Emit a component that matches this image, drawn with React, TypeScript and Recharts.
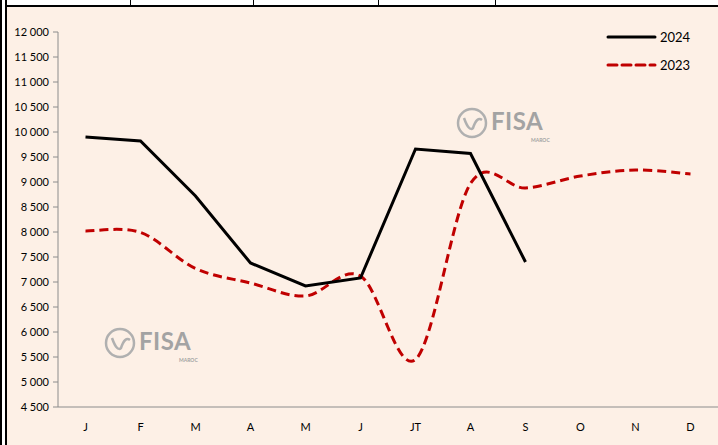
import { LineChart, Line, XAxis, YAxis } from 'recharts';

const months = ['J', 'F', 'M', 'A', 'M', 'J', 'JT', 'A', 'S', 'O', 'N', 'D'];
const values2024 = [9900, 9820, 8720, 7380, 6920, 7080, 9660, 9570, 7400, null, null, null];
const values2023 = [8020, 7990, 7270, 6980, 6720, 7120, 5450, 8970, 8880, 9120, 9240, 9160];
const yTicks = [4500, 5000, 5500, 6000, 6500, 7000, 7500, 8000, 8500, 9000, 9500, 10000, 10500, 11000, 11500, 12000];

const data = months.map((m, i) => ({ key: `${m}${i}`, label: m, y2024: values2024[i], y2023: values2023[i] }));

const fmt = (v: number) => String(v).replace(/\B(?=(\d{3})+(?!\d))/g, ' ');

// Excel-like smoothed line (Catmull-Rom through the points)
const smoothCurve = (context: any) => {
  let pts: number[][] = [];
  return {
    areaStart() {},
    areaEnd() {},
    lineStart() {
      pts = [];
    },
    lineEnd() {
      if (!pts.length) return;
      context.moveTo(pts[0][0], pts[0][1]);
      for (let i = 0; i < pts.length - 1; i++) {
        const p0 = pts[i - 1] || pts[i];
        const p1 = pts[i];
        const p2 = pts[i + 1];
        const p3 = pts[i + 2] || p2;
        context.bezierCurveTo(
          p1[0] + (p2[0] - p0[0]) / 6, p1[1] + (p2[1] - p0[1]) / 6,
          p2[0] - (p3[0] - p1[0]) / 6, p2[1] - (p3[1] - p1[1]) / 6,
          p2[0], p2[1]
        );
      }
    },
    point(x: number, y: number) {
      pts.push([+x, +y]);
    },
  };
};

const Watermark = ({ left, top }: { left: number; top: number }) => (
  <div style={{ position: 'absolute', left, top, width: 100, height: 38, color: '#a3a3a3', fontFamily: 'Lato, sans-serif' }}>
    <svg width="36" height="34" style={{ position: 'absolute', left: 0, top: 0 }}>
      <circle cx="17" cy="17" r="14" fill="none" stroke="#b0b0b0" strokeWidth="2.5" />
      <path d="M9 12 Q14 26 18 22 Q22 10 27 14" fill="none" stroke="#b0b0b0" strokeWidth="2.5" />
    </svg>
    <div style={{ position: 'absolute', left: 36, top: 4, fontSize: 24, lineHeight: '22px', fontWeight: 700, letterSpacing: 0.5 }}>FISA</div>
    <div style={{ position: 'absolute', left: 76, top: 31, fontSize: 5, lineHeight: '6px', fontWeight: 700 }}>MAROC</div>
  </div>
);

const App = () => {
  return (
    <div style={{ position: 'fixed', left: 0, top: 0, width: 718, height: 445, background: '#fdf0e6', overflow: 'hidden', fontFamily: 'Lato, sans-serif' }}>
      {/* sheet borders */}
      <div style={{ position: 'absolute', left: 0, top: 0, width: 718, height: 5, background: '#ffffff', borderBottom: '2px solid #000' }} />
      {[130, 253, 378, 495].map((x) => (
        <div key={x} style={{ position: 'absolute', left: x, top: 0, width: 1, height: 5, background: '#000' }} />
      ))}
      <div style={{ position: 'absolute', left: 0, top: 0, width: 2, height: 445, background: '#000' }} />
      <div style={{ position: 'absolute', left: 2, top: 0, width: 3, height: 445, background: '#fff' }} />
      <div style={{ position: 'absolute', left: 5, top: 0, width: 2, height: 445, background: '#000' }} />

      <Watermark left={455} top={106} />
      <Watermark left={103} top={326} />

      <div style={{ position: 'absolute', left: 0, top: 0 }}>
        <LineChart width={718} height={445} data={data} margin={{ top: 32, right: 0, bottom: 8, left: 8 }}>
          <XAxis
            dataKey="key"
            tickFormatter={(_v: any, i: number) => months[i]}
            interval={0}
            height={30}
            padding={{ left: 27.5, right: 27.5 }}
            axisLine={{ stroke: '#8c8c8c' }}
            tickLine={false}
            tick={{ fill: '#000', fontSize: 11 }}
            tickMargin={10}
          />
          <YAxis
            width={50}
            domain={[4500, 12000]}
            ticks={yTicks}
            interval={0}
            tickFormatter={fmt}
            axisLine={{ stroke: '#8c8c8c' }}
            tickLine={{ stroke: '#8c8c8c' }}
            tickSize={5}
            tickMargin={4}
            tick={{ fill: '#000', fontSize: 11 }}
          />
          <Line type={smoothCurve as any} dataKey="y2023" stroke="#c00000" strokeWidth={3} strokeDasharray="9 5" dot={false} isAnimationActive={false} />
          <Line type="linear" dataKey="y2024" stroke="#000" strokeWidth={3} dot={false} isAnimationActive={false} />
        </LineChart>
      </div>

      {/* legend */}
      <svg width="110" height="50" style={{ position: 'absolute', left: 605, top: 25 }}>
        <line x1="3" y1="12" x2="50" y2="12" stroke="#000" strokeWidth="3" strokeLinecap="round" />
        <text x="55" y="17" fontSize="13" fill="#000" fontFamily="Lato, sans-serif">2024</text>
        <line x1="3" y1="40" x2="50" y2="40" stroke="#c00000" strokeWidth="3" strokeDasharray="9 5" strokeLinecap="round" />
        <text x="55" y="45" fontSize="13" fill="#000" fontFamily="Lato, sans-serif">2023</text>
      </svg>
    </div>
  );
};

export default App;
